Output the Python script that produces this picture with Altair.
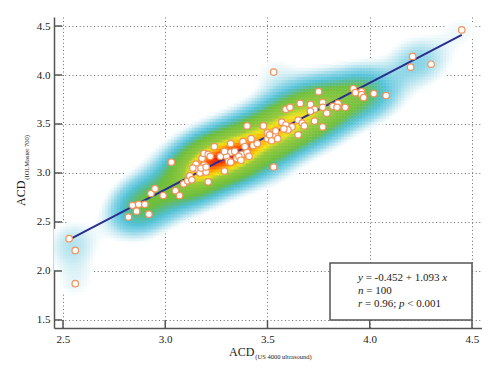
import altair as alt
import numpy as np
import pandas as pd

alt.data_transformers.disable_max_rows()

# ---------------- data ----------------
acd_us = [2.53, 2.56, 2.56, 2.82, 2.84, 2.86, 2.87, 2.90, 2.92, 2.93, 2.95, 2.99, 3.05, 3.07, 3.03,
          3.09, 3.11, 3.12, 3.15, 3.155, 3.17, 3.18, 3.19, 3.19, 3.21, 3.21, 3.175, 3.20, 3.13,
          3.24, 3.22, 3.27, 3.32, 3.32, 3.34, 3.35, 3.375, 3.38, 3.40, 3.41, 3.42, 3.43, 3.45,
          3.30, 3.31, 3.32, 3.36, 3.29, 3.40, 3.48, 3.50, 3.53, 3.50, 3.52, 3.54, 3.55, 3.51,
          3.20, 3.29, 3.39, 3.37, 3.135,
          3.75, 3.92, 3.93, 3.96, 3.96, 3.97, 4.02, 4.08, 3.66, 3.59, 3.61, 3.71, 3.77, 3.73,
          3.71, 3.77, 3.82, 3.845, 3.84, 3.88, 3.79, 3.73, 3.77, 3.57, 3.59, 3.62, 3.65, 3.67,
          3.68, 3.60, 3.58, 3.65, 3.54,
          3.53, 4.45, 4.21, 4.20, 4.30]
acd_iol = [2.33, 2.21, 1.87, 2.55, 2.67, 2.61, 2.68, 2.68, 2.58, 2.79, 2.84, 2.77, 2.82, 2.77, 3.11,
           2.89, 2.92, 2.97, 3.09, 3.04, 3.00, 3.15, 3.20, 3.08, 2.91, 3.19, 3.05, 3.01, 2.93,
           3.27, 3.17, 3.17, 3.30, 3.21, 3.22, 3.15, 3.19, 3.32, 3.21, 3.17, 3.35, 3.28, 3.30,
           3.17, 3.12, 3.11, 3.17, 3.02, 3.48, 3.48, 3.41, 3.06, 3.35, 3.33, 3.38, 3.35, 3.39,
           3.06, 3.22, 3.27, 3.13, 3.05,
           3.83, 3.86, 3.82, 3.83, 3.80, 3.77, 3.81, 3.79, 3.71, 3.65, 3.67, 3.70, 3.72, 3.65,
           3.63, 3.67, 3.68, 3.71, 3.67, 3.67, 3.61, 3.53, 3.47, 3.52, 3.49, 3.47, 3.54, 3.51,
           3.48, 3.44, 3.45, 3.39, 3.43,
           4.03, 4.46, 4.19, 4.08, 4.11]

fit_x = [2.53, 4.45]
fit_y = [2.32, 4.41]

x_ticks = [2.5, 3.0, 3.5, 4.0, 4.5]
y_ticks = [1.5, 2.0, 2.5, 3.0, 3.5, 4.0, 4.5]

stats_lines = [
    [("y", True), (" = -0.452 + 1.093 ", False), ("x", True)],
    [("n", True), (" = 100", False)],
    [("r", True), (" = 0.96; ", False), ("p", True), (" < 0.001", False)],
]
x_title = ("ACD", "(US 4000 ultrasound)")
y_title = ("ACD", "(IOLMaster 700)")

# ---------------- layout / style ----------------
W, H = 428, 311
X_DOM = [2.456, 4.549]
Y_DOM = [1.418, 4.592]
FONT = "Liberation Serif"
AXIS_COL = "#555555"

# Times-like advance widths (per 1000 em)
TW = {" ": 250, ".": 250, "-": 333, "=": 564, "+": 564, ";": 278, "<": 564, "(": 333, ")": 333,
      "A": 722, "C": 667, "D": 722}
TW_IT = {"y": 444, "x": 444, "n": 500, "r": 389, "p": 500}


def text_width(s, size, italic=False):
    w = 0
    for ch in s:
        if italic and ch in TW_IT:
            w += TW_IT[ch]
        elif ch.isdigit():
            w += 500
        else:
            w += TW.get(ch, 500)
    return w * size / 1000.0


# ---------------- density (smoothed 2-D Gaussian KDE of the points) ----------------
nx, ny = 143, 104
dx = (X_DOM[1] - X_DOM[0]) / nx
dy = (Y_DOM[1] - Y_DOM[0]) / ny
xc = X_DOM[0] + (np.arange(nx) + 0.5) * dx
yc = Y_DOM[0] + (np.arange(ny) + 0.5) * dy
GX, GY = np.meshgrid(xc, yc)
ppx = W / (X_DOM[1] - X_DOM[0])
ppy = H / (Y_DOM[1] - Y_DOM[0])
theta = np.arctan(1.093 * ppy / ppx)          # direction of the fitted line on screen
c, s = np.cos(theta), np.sin(theta)
sig_along, sig_perp = 19.0, 16.0              # kernel widths in pixels
dens = np.zeros_like(GX)
for a, b in zip(acd_us, acd_iol):
    ux, uy = (GX - a) * ppx, (GY - b) * ppy
    al = ux * c + uy * s
    pe = -ux * s + uy * c
    dens += np.exp(-0.5 * ((al / sig_along) ** 2 + (pe / sig_perp) ** 2))
dens /= dens.max()
mask = dens > 0.04
dens_df = pd.DataFrame({
    "x": (GX - dx / 2)[mask], "x2": (GX + dx * 0.65)[mask],
    "y": (GY - dy / 2)[mask], "y2": (GY + dy * 0.65)[mask],
    "d": dens[mask],
})

xs = alt.Scale(domain=X_DOM, nice=False, zero=False)
ys = alt.Scale(domain=Y_DOM, nice=False, zero=False)

grid_kw = dict(grid=True, gridDash=[1, 2.6], gridColor="#6a6a6a", gridWidth=1,
               ticks=False, domainColor=AXIS_COL, domainWidth=1.5,
               labelFont=FONT, labelFontSize=11, labelColor="#1a1a1a", title=None)
x_axis = alt.Axis(values=x_ticks, format=".1f", labelPadding=5, **grid_kw)
y_axis = alt.Axis(values=y_ticks, format=".1f", labelPadding=4, **grid_kw)


def X(field):
    return alt.X(field, type="quantitative", scale=xs, axis=x_axis)


def Y(field):
    return alt.Y(field, type="quantitative", scale=ys, axis=y_axis)


color_scale = alt.Scale(
    domain=[0.0, 0.04, 0.07, 0.12, 0.20, 0.29, 0.36, 0.64, 0.76, 0.86, 0.94, 1.0],
    range=["#ffffff", "#ffffff", "#d5eff5", "#8fd6e7", "#52c2d8", "#59bb88", "#6dbe3c",
           "#98c93b", "#f2e41a", "#ffab00", "#ff5a00", "#e2140c"],
    interpolate="rgb",
)

density = alt.Chart(dens_df).mark_rect(strokeWidth=0).encode(
    x=X("x"), x2="x2", y=Y("y"), y2="y2",
    color=alt.Color("d:Q", scale=color_scale, legend=None),
)

fit_df = pd.DataFrame({"x": fit_x, "y": fit_y})
fit_line = alt.Chart(fit_df).mark_line(color="#2b2e8e", strokeWidth=2).encode(x=X("x"), y=Y("y"))

pts_df = pd.DataFrame({"x": acd_us, "y": acd_iol})
points = alt.Chart(pts_df).mark_point(
    shape="circle", size=42, fill="white", fillOpacity=1, opacity=1,
    stroke="#f0925c", strokeWidth=1.2,
).encode(x=X("x"), y=Y("y"))

# inward tick marks
xt = alt.Chart(pd.DataFrame({"v": x_ticks})).mark_rule(color=AXIS_COL, strokeWidth=1.5).encode(
    x=X("v"), y=alt.value(H), y2=alt.value(H - 8))
yt = alt.Chart(pd.DataFrame({"v": y_ticks})).mark_rule(color=AXIS_COL, strokeWidth=1.5).encode(
    y=Y("v"), x=alt.value(0), x2=alt.value(8))

# stats box
one = pd.DataFrame({"a": [0]})
box = alt.Chart(one).mark_rect(fill="white", stroke=AXIS_COL, strokeWidth=1.5).encode(
    x=alt.value(276), x2=alt.value(418), y=alt.value(246), y2=alt.value(303))


def add_seg(rows, s, xx, yy, it, size):
    lead = len(s) - len(s.lstrip(" "))
    rows.append({"t": s.strip(" "), "px": xx + text_width(" " * lead, size), "py": yy,
                 "it": it, "size": size})
    return xx + text_width(s, size, it)


rows = []
line_y_pos = [264, 277, 290]
for segs, yy in zip(stats_lines, line_y_pos):
    xx = 304.0
    for s_, it in segs:
        xx = add_seg(rows, s_, xx, yy, it, 11.0)

# x-axis title with subscript
tx0 = 175.0
add_seg(rows, x_title[0], tx0, 339, False, 12.0)
add_seg(rows, x_title[1], tx0 + text_width(x_title[0], 12.0) + 1, 342, False, 6.5)
texts = pd.DataFrame(rows)

text_layers = []
for it in (False, True):
    sub = texts[texts["it"] == it]
    for size in sorted(sub["size"].unique()):
        s2 = sub[sub["size"] == size]
        text_layers.append(
            alt.Chart(s2).mark_text(
                align="left", baseline="alphabetic", font=FONT, fontSize=float(size),
                fontStyle="italic" if it else "normal", color="#1a1a1a",
            ).encode(
                x=alt.X("px:Q", scale=None, axis=None),
                y=alt.Y("py:Q", scale=None, axis=None),
                text="t:N",
            )
        )

ty0 = 189.0
ytitle_main = alt.Chart(one).mark_text(
    align="left", baseline="alphabetic", font=FONT, fontSize=12, angle=270, color="#1a1a1a",
    text=y_title[0]).encode(x=alt.value(-29), y=alt.value(ty0))
ytitle_sub = alt.Chart(one).mark_text(
    align="left", baseline="alphabetic", font=FONT, fontSize=6.5, angle=270, color="#1a1a1a",
    text=y_title[1]).encode(x=alt.value(-25.5), y=alt.value(ty0 - text_width(y_title[0], 12.0) - 1))

chart = alt.layer(
    density, fit_line, points, xt, yt, box, *text_layers, ytitle_main, ytitle_sub
).resolve_scale(x="shared", y="shared").properties(
    width=W, height=H,
    autosize=alt.AutoSizeParams(type="none"),
    padding={"left": 46, "top": 9, "right": 0, "bottom": 40},
).configure_view(stroke=None)

chart.save("out.html", embed_options={"renderer": "svg", "actions": False})
